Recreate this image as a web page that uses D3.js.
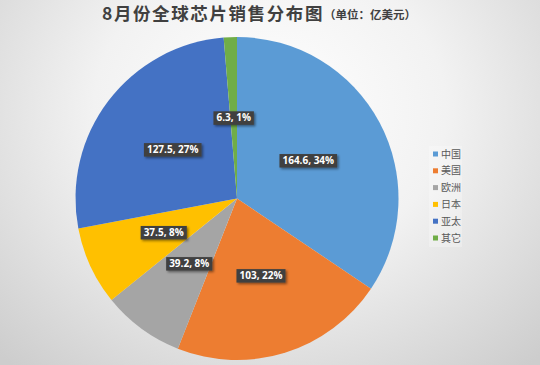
<!DOCTYPE html>
<html><head><meta charset="utf-8">
<script src="https://cdn.jsdelivr.net/npm/d3@7"></script>
<style>html,body{margin:0;padding:0;overflow:hidden;}svg{display:block;}</style>
</head><body>
<script>
const categories = ["中国", "美国", "欧洲", "日本", "亚太", "其它"];
const values = [164.6, 103, 39.2, 37.5, 127.5, 6.3];
const colors = ["#5B9BD5", "#ED7D31", "#A5A5A5", "#FFC000", "#4472C4", "#70AD47"];
const titleText = "8月份全球芯片销售分布图";
const subtitleText = "（单位：亿美元）";

const W = 540, H = 365;
const svg = d3.select("body").append("svg").attr("width", W).attr("height", H);
const defs = svg.append("defs");
const bg = defs.append("radialGradient").attr("id", "bg")
  .attr("gradientUnits", "userSpaceOnUse")
  .attr("cx", 270).attr("cy", 110).attr("r", 340)
  .attr("gradientTransform", "translate(270,110) scale(1.15,1) translate(-270,-110)");
bg.append("stop").attr("offset", "0%").attr("stop-color", "#ffffff");
bg.append("stop").attr("offset", "45%").attr("stop-color", "#f2f2f2");
bg.append("stop").attr("offset", "100%").attr("stop-color", "#cdcdcd");
const sh = defs.append("filter").attr("id", "sh").attr("x", "-20%").attr("y", "-40%").attr("width", "150%").attr("height", "200%");
sh.append("feDropShadow").attr("dx", 1.5).attr("dy", 1.5).attr("stdDeviation", 1.2).attr("flood-color", "#000").attr("flood-opacity", 0.45);

svg.append("rect").attr("width", W).attr("height", H).attr("fill", "url(#bg)");

// Title
const title = svg.append("text").attr("x", 102).attr("y", 20)
  .attr("font-family", "'Noto Sans CJK SC', sans-serif").attr("font-weight", "bold")
  .attr("fill", "#404040");
title.append("tspan").attr("font-size", 17.5).attr("letter-spacing", 1.6).text(titleText);
title.append("tspan").attr("font-size", 11.5).attr("dy", -1).text(subtitleText);

// Pie
const cx = 237, cy = 198.5, R = 161.5;
const total = d3.sum(values);
const data = categories.map((c, i) => ({ cat: c, value: values[i], color: colors[i] }));
const pie = d3.pie().value(d => d.value).sort(null);
const arcs = pie(data);
const arc = d3.arc().innerRadius(0).outerRadius(R);
const g = svg.append("g").attr("transform", `translate(${cx},${cy})`);
g.selectAll("path.slice").data(arcs).join("path").attr("class", "slice")
  .attr("d", arc).attr("fill", d => d.data.color);

// Labels
const fmtPct = v => Math.round(v / total * 100) + "%";
const lab = g.selectAll("g.lab").data(arcs).join("g").attr("class", "lab")
  .attr("transform", d => `translate(${arc.centroid(d)})`);
lab.each(function(d) {
  const s = d3.select(this);
  const rect = s.append("rect").attr("fill", "#404040").attr("filter", "url(#sh)");
  const t = s.append("text").attr("text-anchor", "middle").attr("dy", "0.36em")
    .attr("font-family", "'Open Sans', sans-serif").attr("font-weight", "bold")
    .attr("font-size", 10).attr("fill", "#ffffff")
    .text(d.data.value + ", " + fmtPct(d.data.value));
  const b = t.node().getBBox();
  rect.attr("x", -b.width / 2 - 3).attr("y", -6.5).attr("width", b.width + 6).attr("height", 13.5);
});

// Legend
const lg = svg.append("g");
lg.append("rect").attr("x", 429).attr("y", 146).attr("width", 33).attr("height", 101)
  .attr("fill", "#ffffff").attr("opacity", 0.25);
const ly = d3.scalePoint().domain(categories).range([154, 238]);
const li = lg.selectAll("g.li").data(data).join("g").attr("class", "li")
  .attr("transform", d => `translate(433,${ly(d.cat)})`);
li.append("rect").attr("x", 0).attr("y", -2.5).attr("width", 5).attr("height", 5).attr("fill", d => d.color);
li.append("text").attr("x", 8).attr("dy", "0.35em")
  .attr("font-family", "'Noto Sans CJK SC', sans-serif").attr("font-size", 10)
  .attr("fill", "#595959").text(d => d.cat);
</script>
</body></html>
